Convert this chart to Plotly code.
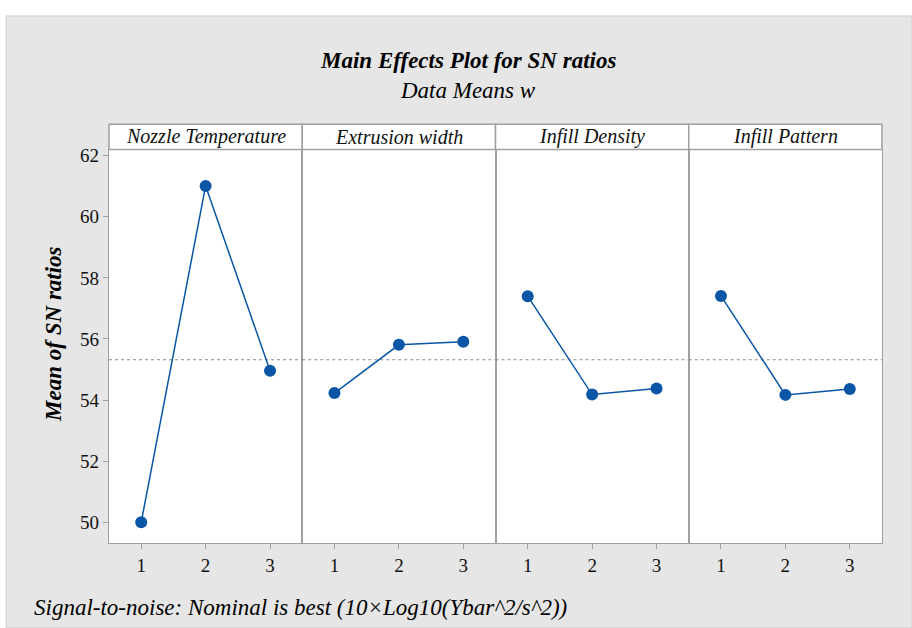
import plotly.graph_objects as go

# Factor names and levels
factors = ["Nozzle Temperature", "Extrusion width", "Infill Density", "Infill Pattern"]
levels = [1, 2, 3]

# Mean S/N ratio at each level of each factor
sn_nozzle = [50.00, 61.01, 54.96]
sn_extrusion = [54.23, 55.81, 55.91]
sn_density = [57.40, 54.18, 54.38]
sn_pattern = [57.41, 54.17, 54.36]
series = [sn_nozzle, sn_extrusion, sn_density, sn_pattern]

grand_mean = 55.32
y_ticks = [50, 52, 54, 56, 58, 60, 62]

W, H = 912, 628
FONT = "Liberation Serif"
BLUE = "#0a56a6"
EDGE = "#a0a0a0"
BG = "#e6e6e6"

# panel geometry in pixels
left, right = 109, 882
top_plot, bottom_plot = 146.5, 542.5
strip_top = 121
panel_w = (right - left) / 4

def px_x(v):
    return v / W

def px_y(v):
    return 1 - v / H

fig = go.Figure()

# grey chart area inside a thin white frame
fig.add_shape(type="rect", xref="paper", yref="paper",
              x0=px_x(6), x1=1.0, y0=0, y1=px_y(12),
              fillcolor=BG, line=dict(color="#cfcfcf", width=1), layer="below")

for i, (name, vals) in enumerate(zip(factors, series)):
    ax = "" if i == 0 else str(i + 1)
    x0 = left + i * panel_w
    x1 = x0 + panel_w
    fig.add_trace(go.Scatter(
        x=levels, y=vals, mode="lines+markers",
        line=dict(color=BLUE, width=1.5),
        marker=dict(color=BLUE, size=12),
        xaxis="x" + ax, yaxis="y" + ax, showlegend=False,
        hoverinfo="x+y",
    ))
    fig.update_layout(**{
        "xaxis" + ax: dict(
            domain=[px_x(x0), px_x(x1)], range=[0.5, 3.5],
            tickvals=levels, ticktext=[str(l) for l in levels],
            ticks="outside", ticklen=5, tickcolor=EDGE, tickwidth=1,
            showline=True, linecolor=EDGE, linewidth=1.3, mirror=True,
            showgrid=False, zeroline=False, fixedrange=True,
            tickfont=dict(family=FONT, size=19, color="#111"),
            anchor="y" + ax,
        ),
        "yaxis" + ax: dict(
            domain=[px_y(bottom_plot), px_y(top_plot)], range=[49.32, 62.2],
            tickvals=y_ticks, showticklabels=(i == 0),
            ticks="outside" if i == 0 else "", ticklen=5, tickcolor=EDGE,
            showline=True, linecolor=EDGE, linewidth=1.3, mirror=True,
            showgrid=False, zeroline=False, fixedrange=True,
            tickfont=dict(family=FONT, size=19, color="#111"),
            anchor="x" + ax,
        ),
    })
    # white panel face
    fig.add_shape(type="rect", xref="x" + ax + " domain", yref="y" + ax + " domain",
                  x0=0, x1=1, y0=0, y1=1,
                  fillcolor="white", line=dict(width=0), layer="below")
    # strip header for the factor
    fig.add_shape(type="rect", xref="paper", yref="paper",
                  x0=px_x(x0), x1=px_x(x1), y0=px_y(top_plot), y1=px_y(strip_top),
                  fillcolor="white", line=dict(color=EDGE, width=1.5), layer="below")
    fig.add_annotation(xref="paper", yref="paper",
                       x=px_x((x0 + x1) / 2), y=px_y((strip_top + top_plot) / 2),
                       text="<i>%s</i>" % name, showarrow=False,
                       font=dict(family=FONT, size=20, color="#111"),
                       xanchor="center", yanchor="middle")
    # grand mean reference line
    fig.add_shape(type="line", xref="x" + ax, yref="y" + ax,
                  x0=0.5, x1=3.5, y0=grand_mean, y1=grand_mean,
                  line=dict(color="#8c8c8c", width=1, dash="dot"), layer="below")

fig.add_annotation(xref="paper", yref="paper", x=px_x(468), y=px_y(57),
                   text="<b><i>Main Effects Plot for SN ratios</i></b>", showarrow=False,
                   font=dict(family=FONT, size=23, color="#000"),
                   xanchor="center", yanchor="middle")
fig.add_annotation(xref="paper", yref="paper", x=px_x(468), y=px_y(87),
                   text="<i>Data Means w</i>", showarrow=False,
                   font=dict(family=FONT, size=23, color="#000"),
                   xanchor="center", yanchor="middle")
fig.add_annotation(xref="paper", yref="paper", x=px_x(54), y=px_y(333),
                   text="<b><i>Mean of SN ratios</i></b>", showarrow=False, textangle=-90,
                   font=dict(family=FONT, size=23, color="#000"),
                   xanchor="center", yanchor="middle")
fig.add_annotation(xref="paper", yref="paper", x=px_x(32), y=px_y(607),
                   text="<i>Signal-to-noise: Nominal is best (10×Log10(Ybar^2/s^2))</i>",
                   showarrow=False, font=dict(family=FONT, size=23, color="#000"),
                   xanchor="left", yanchor="middle")

fig.update_layout(
    width=W, height=H, margin=dict(l=0, r=0, t=0, b=0),
    paper_bgcolor="white", plot_bgcolor="white",
)

fig.write_html("out.html")
